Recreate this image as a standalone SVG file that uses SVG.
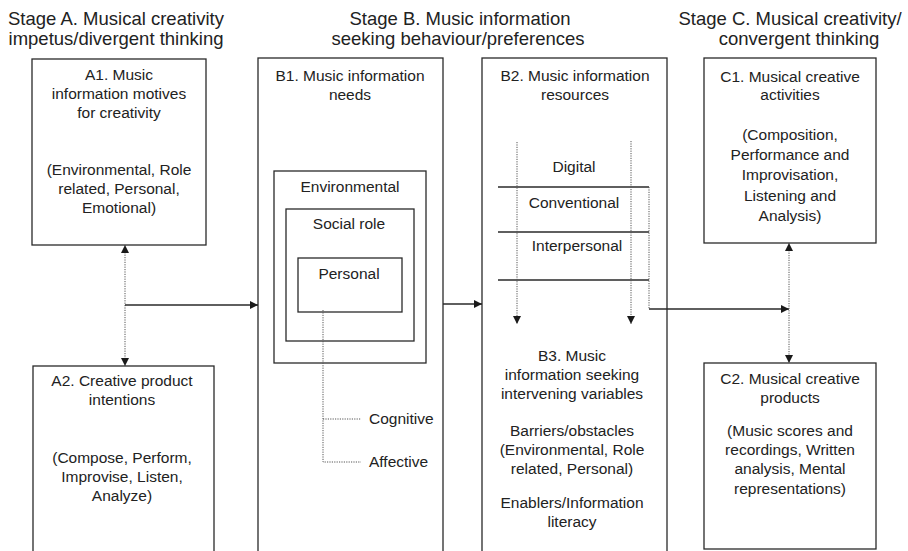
<svg xmlns="http://www.w3.org/2000/svg" width="908" height="551" viewBox="0 0 908 551">
<defs>
<marker id="ah" viewBox="0 0 10 10" refX="10" refY="5" markerWidth="9" markerHeight="8" markerUnits="userSpaceOnUse" orient="auto-start-reverse">
<path d="M0,0 L10,5 L0,10 z" fill="#1a1a1a"/>
</marker>
<style>
.box{fill:none;stroke:#2a2a2a;stroke-width:1.3}
.ln{fill:none;stroke:#2a2a2a;stroke-width:1.3}
.dot{fill:none;stroke:#555;stroke-width:1;stroke-dasharray:1.2 1.2}
text{font-family:"Liberation Sans",Arial,sans-serif;fill:#222}
.t{font-size:15.5px;text-anchor:middle}
.h{font-size:18.5px;text-anchor:middle}
.s{font-size:15.5px;text-anchor:start}
</style>
</defs>
<rect width="908" height="551" fill="#fff"/>

<g id="titles">
<text class="h" x="116" y="25">Stage A. Musical creativity</text>
<text class="h" x="116" y="45">impetus/divergent thinking</text>
<text class="h" x="460" y="25">Stage B. Music information</text>
<text class="h" x="458" y="45">seeking behaviour/preferences</text>
<text class="h" x="790" y="25">Stage C. Musical creativity/</text>
<text class="h" x="799" y="45">convergent thinking</text>
</g>

<g id="A1">
<rect class="box" x="32" y="59" width="174" height="186"/>
<text class="t" x="119" y="80">A1. Music</text>
<text class="t" x="119" y="99">information motives</text>
<text class="t" x="119" y="118">for creativity</text>
<text class="t" x="119" y="175">(Environmental, Role</text>
<text class="t" x="119" y="194">related, Personal,</text>
<text class="t" x="119" y="213">Emotional)</text>
</g>

<g id="A2">
<rect class="box" x="33" y="366" width="181" height="200"/>
<text class="t" x="122" y="386">A2. Creative product</text>
<text class="t" x="122" y="405">intentions</text>
<text class="t" x="122" y="463">(Compose, Perform,</text>
<text class="t" x="122" y="482">Improvise, Listen,</text>
<text class="t" x="122" y="501">Analyze)</text>
</g>

<g id="B1">
<rect class="box" x="258" y="58" width="185" height="510"/>
<text class="t" x="350" y="81">B1. Music information</text>
<text class="t" x="350" y="100">needs</text>
</g>

<g id="B1-environmental">
<rect class="box" x="274" y="171" width="152" height="192"/>
<text class="t" x="350" y="192">Environmental</text>
</g>
<g id="B1-social">
<rect class="box" x="286" y="209" width="128" height="132"/>
<text class="t" x="349" y="229">Social role</text>
</g>
<g id="B1-personal">
<rect class="box" x="298" y="258" width="104" height="54"/>
<text class="t" x="349" y="279">Personal</text>
</g>
<g id="B1-cognitive">
<text class="s" x="369" y="424">Cognitive</text>
</g>
<g id="B1-affective">
<text class="s" x="369" y="467">Affective</text>
</g>

<g id="B2">
<rect class="box" x="482" y="58" width="185" height="510"/>
<text class="t" x="575" y="81">B2. Music information</text>
<text class="t" x="575" y="100">resources</text>
<line class="ln" x1="498" y1="187" x2="649" y2="187"/>
<line class="ln" x1="498" y1="232" x2="649" y2="232"/>
<line class="ln" x1="498" y1="280" x2="649" y2="280"/>
</g>
<g id="B2-digital"><text class="t" x="574" y="172">Digital</text></g>
<g id="B2-conventional"><text class="t" x="574" y="208">Conventional</text></g>
<g id="B2-interpersonal"><text class="t" x="577" y="251">Interpersonal</text></g>

<g id="B3">
<text class="t" x="572" y="361">B3. Music</text>
<text class="t" x="572" y="380">information seeking</text>
<text class="t" x="572" y="399">intervening variables</text>
<text class="t" x="572" y="436">Barriers/obstacles</text>
<text class="t" x="572" y="455">(Environmental, Role</text>
<text class="t" x="572" y="474">related, Personal)</text>
<text class="t" x="572" y="508">Enablers/Information</text>
<text class="t" x="572" y="527">literacy</text>
</g>

<g id="C1">
<rect class="box" x="704" y="58" width="172" height="185"/>
<text class="t" x="790" y="82">C1. Musical creative</text>
<text class="t" x="790" y="100">activities</text>
<text class="t" x="790" y="140">(Composition,</text>
<text class="t" x="790" y="160">Performance and</text>
<text class="t" x="790" y="180">Improvisation,</text>
<text class="t" x="790" y="201">Listening and</text>
<text class="t" x="790" y="221">Analysis)</text>
</g>

<g id="C2">
<rect class="box" x="704" y="363" width="172" height="186"/>
<text class="t" x="790" y="384">C2. Musical creative</text>
<text class="t" x="790" y="403">products</text>
<text class="t" x="790" y="436">(Music scores and</text>
<text class="t" x="790" y="455">recordings, Written</text>
<text class="t" x="790" y="474">analysis, Mental</text>
<text class="t" x="790" y="494">representations)</text>
</g>

<g id="connectors">
<line class="dot" x1="125" y1="245" x2="125" y2="366" marker-start="url(#ah)" marker-end="url(#ah)"/>
<line class="ln" x1="125" y1="305" x2="258" y2="305" marker-end="url(#ah)"/>
<line class="ln" x1="443" y1="304" x2="482" y2="304" marker-end="url(#ah)"/>
<polyline class="dot" points="323,310 323,462 361,462"/>
<line class="dot" x1="323" y1="419" x2="361" y2="419"/>
<line class="dot" x1="517" y1="142" x2="517" y2="324" marker-end="url(#ah)"/>
<line class="dot" x1="631" y1="141" x2="631" y2="324" marker-end="url(#ah)"/>
<line class="dot" x1="649" y1="187" x2="649" y2="309"/>
<line class="ln" x1="649" y1="309" x2="789" y2="309" marker-end="url(#ah)"/>
<line class="dot" x1="789" y1="243" x2="789" y2="363" marker-start="url(#ah)" marker-end="url(#ah)"/>
</g>
</svg>
